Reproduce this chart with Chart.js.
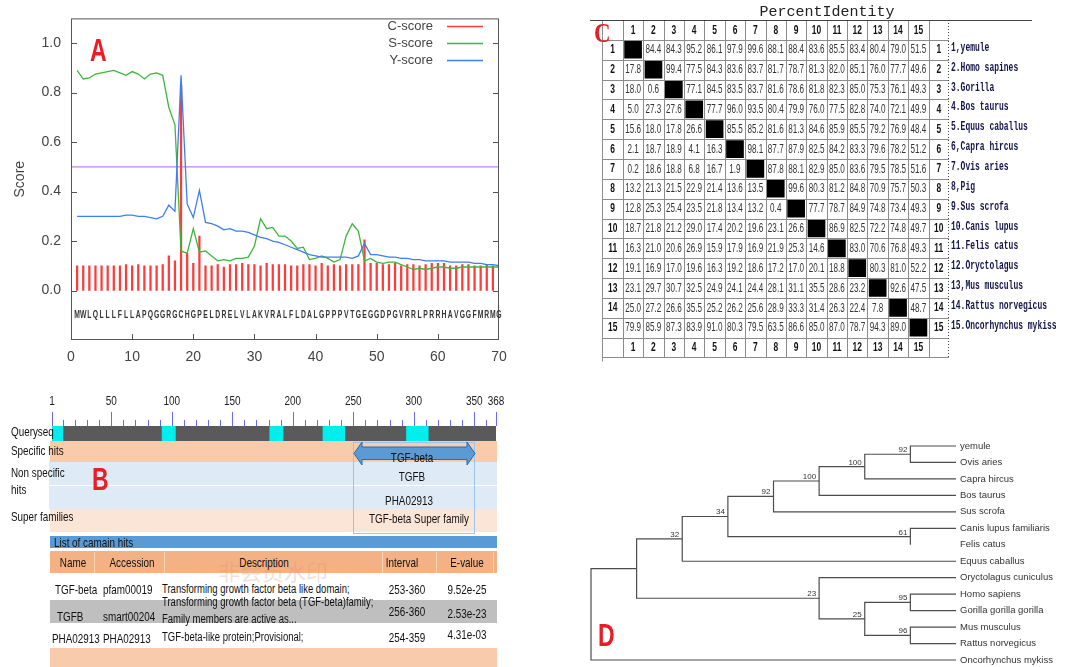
<!DOCTYPE html>
<html>
<head>
<meta charset="utf-8">
<title>TGF-beta signal peptide, domains, identity and tree</title>
<script src="https://cdn.jsdelivr.net/npm/chart.js@4.4.1/dist/chart.umd.min.js"></script>
<style>
  body { margin: 0; background: #fff; }
  #page { position: relative; width: 1073px; height: 667px; overflow: hidden;
          font-family: 'Liberation Sans', sans-serif; color: #111; }
  #page canvas, #page .box, #page .t { position: absolute; }
  #page .t { white-space: nowrap; line-height: 1; }
  .panel { position: absolute; font: bold 32px 'Liberation Sans', sans-serif; color: #ec1c24; line-height: 1;
           z-index: 5; transform: scaleX(0.72); transform-origin: left center; }
</style>
</head>
<body>
<div id="page">
  <canvas id="chartA" width="580" height="370" style="left:0;top:0"></canvas>
  <canvas id="chartC" width="483" height="370" style="left:590px;top:0"></canvas>
  <canvas id="chartD" width="493" height="287" style="left:580px;top:380px"></canvas>
  <div class="panel" style="left:90px;top:34px">A</div>
  <div class="panel" style="left:92px;top:463px">B</div>
  <div class="panel" style="left:598px;top:619px">D</div>
</div>
<script>
// =====================
// PANEL A - C/S/Y SCORES
// =====================
const aXTicks = [0, 10, 20, 30, 40, 50, 60, 70];
const aYTicks = [0, 0.2, 0.4, 0.6, 0.8, 1.0];
const cScore = [
  0.10, 0.10, 0.10, 0.10, 0.10, 0.10, 0.10, 0.10, 0.105, 0.10,
  0.105, 0.10, 0.10, 0.10, 0.105, 0.14, 0.12, 0.83, 0.15, 0.11,
  0.22, 0.10, 0.10, 0.105, 0.095, 0.105, 0.105, 0.11, 0.105, 0.105,
  0.10, 0.11, 0.105, 0.105, 0.105, 0.10, 0.10, 0.105, 0.105, 0.10,
  0.11, 0.10, 0.105, 0.10, 0.105, 0.105, 0.105, 0.205, 0.11, 0.11,
  0.105, 0.105, 0.11, 0.10, 0.105, 0.105, 0.10, 0.105, 0.11, 0.11,
  0.11, 0.10, 0.10, 0.105, 0.105, 0.10, 0.10, 0.105, 0.10
];
const sScore = [
  0.89, 0.855, 0.86, 0.875, 0.88, 0.885, 0.89, 0.88, 0.87, 0.885,
  0.875, 0.855, 0.875, 0.88, 0.87, 0.74, 0.67, 0.16, 0.15, 0.25,
  0.155, 0.16, 0.14, 0.12, 0.125, 0.12, 0.13, 0.13, 0.135, 0.18,
  0.29, 0.25, 0.255, 0.22, 0.22, 0.20, 0.17, 0.175, 0.125, 0.13,
  0.14, 0.13, 0.115, 0.125, 0.22, 0.27, 0.24, 0.12, 0.13, 0.115,
  0.11, 0.115, 0.115, 0.105, 0.095, 0.085, 0.09, 0.085, 0.09, 0.095,
  0.095, 0.09, 0.09, 0.095, 0.095, 0.095, 0.095, 0.095, 0.095, 0.095
];
const yScore = [
  0.30, 0.30, 0.30, 0.30, 0.30, 0.30, 0.30, 0.30, 0.305, 0.305,
  0.30, 0.30, 0.295, 0.29, 0.30, 0.345, 0.32, 0.87, 0.35, 0.295,
  0.405, 0.275, 0.27, 0.26, 0.245, 0.25, 0.24, 0.24, 0.235, 0.225,
  0.215, 0.21, 0.20, 0.195, 0.185, 0.175, 0.165, 0.155, 0.145, 0.14,
  0.135, 0.135, 0.135, 0.135, 0.135, 0.13, 0.14, 0.19, 0.145, 0.145,
  0.14, 0.135, 0.135, 0.13, 0.13, 0.125, 0.125, 0.12, 0.12, 0.12,
  0.12, 0.115, 0.115, 0.115, 0.115, 0.11, 0.11, 0.105, 0.105, 0.10
];
const dCutoff = 0.5;
const seqLetters = 'MWLQLLLFLLAPQGGRGCHGPELDRELVLAKVRALFLDALGPPPVTGEGGDPGVRRLPRRHAVGGFMRMG';
const seqRow = -0.1;
const aLegend = ['C-score', 'S-score', 'Y-score'];

const toPts = arr => arr.map((v, i) => ({ x: i + 1, y: v }));

// canvas text squeezed horizontally (no narrow font is installed)
function sText(ctx, s, x, y, sx) {
  ctx.save(); ctx.translate(x, y); ctx.scale(sx, 1); ctx.fillText(s, 0, 0); ctx.restore();
}

const signalPlugin = {
  id: 'signalFrame',
  afterDatasetsDraw(chart) {
    const { ctx, chartArea: a, scales: { x, y } } = chart;
    ctx.save();
    ctx.strokeStyle = '#555';
    ctx.lineWidth = 1;
    ctx.strokeRect(a.left + 0.5, a.top + 0.5, a.right - a.left - 1, a.bottom - a.top - 1);
    ctx.beginPath();
    aYTicks.forEach(v => {
      const py = Math.round(y.getPixelForValue(v)) + 0.5;
      ctx.moveTo(a.left, py); ctx.lineTo(a.left + 6, py);
      ctx.moveTo(a.right, py); ctx.lineTo(a.right - 6, py);
    });
    aXTicks.slice(1, -1).forEach(v => {
      const px = Math.round(x.getPixelForValue(v)) + 0.5;
      ctx.moveTo(px, a.bottom); ctx.lineTo(px, a.bottom - 6);
    });
    ctx.stroke();

    // residues under the axis
    ctx.fillStyle = '#333';
    ctx.font = "bold 10px 'Liberation Sans', sans-serif";
    ctx.textAlign = 'center';
    ctx.textBaseline = 'middle';
    const sy = y.getPixelForValue(seqRow);
    seqLetters.split('').forEach((ch, i) => sText(ctx, ch, x.getPixelForValue(i + 1), sy, 0.68));

    // legend, top right inside the frame
    ctx.font = "13px 'Liberation Sans', sans-serif";
    ctx.textAlign = 'right';
    aLegend.forEach((name, i) => {
      const ds = chart.data.datasets.find(d => d.label === name);
      const ly = 26 + i * 17;
      ctx.fillStyle = '#444';
      ctx.fillText(name, 433, ly);
      ctx.strokeStyle = ds.type === 'bar' ? ds.backgroundColor : ds.borderColor;
      ctx.lineWidth = 1.5;
      ctx.beginPath(); ctx.moveTo(447, ly + 0.5); ctx.lineTo(483, ly + 0.5); ctx.stroke();
    });
    ctx.restore();
  }
};

new Chart(document.getElementById('chartA'), {
  type: 'bar',
  data: {
    datasets: [
      { type: 'line', label: 'Y-score', data: toPts(yScore), borderColor: '#3b7ff2', borderWidth: 1.3,
        pointRadius: 0, tension: 0, order: 1 },
      { type: 'line', label: 'S-score', data: toPts(sScore), borderColor: '#3db63d', borderWidth: 1.3,
        pointRadius: 0, tension: 0, order: 2 },
      { type: 'bar', label: 'C-score', data: toPts(cScore), backgroundColor: '#ff3b3b', barThickness: 1.6,
        borderWidth: 0, order: 3 },
      { type: 'line', label: 'cutoff', data: [{ x: aXTicks[0], y: dCutoff }, { x: aXTicks[aXTicks.length - 1], y: dCutoff }],
        borderColor: '#c77dff', borderWidth: 1.3, pointRadius: 0, order: 4 }
    ]
  },
  options: {
    responsive: false,
    animation: false,
    devicePixelRatio: 1,
    events: [],
    layout: { padding: { top: 15, right: 81, left: 0, bottom: 0 } },
    plugins: { legend: { display: false }, tooltip: { enabled: false } },
    scales: {
      x: {
        type: 'linear', min: 0, max: 70, offset: false,
        afterBuildTicks: s => { s.ticks = aXTicks.map(v => ({ value: v })); },
        afterFit: s => { s.height = 30; },
        grid: { display: false, drawTicks: false }, border: { display: false },
        ticks: { padding: 9, color: '#444', font: { size: 14, family: 'Liberation Sans' } }
      },
      y: {
        type: 'linear', min: -0.2, max: 1.1,
        afterBuildTicks: s => { s.ticks = aYTicks.map(v => ({ value: v })); },
        afterFit: s => { s.width = 71; },
        grid: { display: false, drawTicks: false }, border: { display: false },
        ticks: { padding: 10, color: '#444', font: { size: 14, family: 'Liberation Sans' },
                 callback: v => v.toFixed(1) },
        title: { display: true, text: 'Score', color: '#444', padding: { top: 12, bottom: 0 },
                 font: { size: 14, family: 'Liberation Sans' } }
      }
    }
  },
  plugins: [signalPlugin]
});

// =====================
// PANEL C - PERCENT IDENTITY
// =====================
const pidTicks = ['1', '2', '3', '4', '5', '6', '7', '8', '9', '10', '11', '12', '13', '14', '15'];
const pidNames = ['1,yemule', '2.Homo sapines', '3.Gorilla', '4.Bos taurus', '5.Equus caballus',
  '6,Capra hircus', '7.Ovis aries', '8,Pig', '9.Sus scrofa', '10.Canis lupus', '11.Felis catus',
  '12.Oryctolagus', '13,Mus musculus', '14.Rattus norvegicus', '15.Oncorhynchus mykiss'];
const pidMatrix = [
  [null, 84.4, 84.3, 95.2, 86.1, 97.9, 99.6, 88.1, 88.4, 83.6, 85.5, 83.4, 80.4, 79.0, 51.5],
  [17.8, null, 99.4, 77.5, 84.3, 83.6, 83.7, 81.7, 78.7, 81.3, 82.0, 85.1, 76.0, 77.7, 49.6],
  [18.0, 0.6, null, 77.1, 84.5, 83.5, 83.7, 81.6, 78.6, 81.8, 82.3, 85.0, 75.3, 76.1, 49.3],
  [5.0, 27.3, 27.6, null, 77.7, 96.0, 93.5, 80.4, 79.9, 76.0, 77.5, 82.8, 74.0, 72.1, 49.9],
  [15.6, 18.0, 17.8, 26.6, null, 85.5, 85.2, 81.6, 81.3, 84.6, 85.9, 85.5, 79.2, 76.9, 48.4],
  [2.1, 18.7, 18.9, 4.1, 16.3, null, 98.1, 87.7, 87.9, 82.5, 84.2, 83.3, 79.6, 78.2, 51.2],
  [0.2, 18.6, 18.8, 6.8, 16.7, 1.9, null, 87.8, 88.1, 82.9, 85.0, 83.6, 79.5, 78.5, 51.6],
  [13.2, 21.3, 21.5, 22.9, 21.4, 13.6, 13.5, null, 99.6, 80.3, 81.2, 84.8, 70.9, 75.7, 50.3],
  [12.8, 25.3, 25.4, 23.5, 21.8, 13.4, 13.2, 0.4, null, 77.7, 78.7, 84.9, 74.8, 73.4, 49.3],
  [18.7, 21.8, 21.2, 29.0, 17.4, 20.2, 19.6, 23.1, 26.6, null, 86.9, 82.5, 72.2, 74.8, 49.7],
  [16.3, 21.0, 20.6, 26.9, 15.9, 17.9, 16.9, 21.9, 25.3, 14.6, null, 83.0, 70.6, 76.8, 49.3],
  [19.1, 16.9, 17.0, 19.6, 16.3, 19.2, 18.6, 17.2, 17.0, 20.1, 18.8, null, 80.3, 81.0, 52.2],
  [23.1, 29.7, 30.7, 32.5, 24.9, 24.1, 24.4, 28.1, 31.1, 35.5, 28.6, 23.2, null, 92.6, 47.5],
  [25.0, 27.2, 26.6, 35.5, 25.2, 26.2, 25.6, 28.9, 33.3, 31.4, 26.3, 22.4, 7.8, null, 48.7],
  [79.9, 85.9, 87.3, 83.9, 91.0, 80.3, 79.5, 63.5, 86.6, 85.0, 87.0, 78.7, 94.3, 89.0, null]
];
const pidCols = ['rowL', ...pidTicks, 'rowR'];
const pidRows = ['head', ...pidTicks, 'foot'];

const pidPlugin = {
  id: 'pidTable',
  afterDatasetsDraw(chart) {
    const { ctx, chartArea: a, scales: { x, y } } = chart;
    const cw = x.getPixelForValue(1) - x.getPixelForValue(0);
    const ch = y.getPixelForValue(1) - y.getPixelForValue(0);
    const last = pidCols.length - 1;
    ctx.save();
    // cell borders
    ctx.strokeStyle = '#8c8c8c';
    ctx.lineWidth = 1;
    ctx.beginPath();
    for (let k = 0; k <= last; k++) {
      const px = Math.round(x.getPixelForValue(k) - cw / 2) + 0.5;
      ctx.moveTo(px, a.top); ctx.lineTo(px, a.bottom + (k === 0 ? 4 : 0));
    }
    for (let k = 1; k <= pidRows.length; k++) {
      const py = Math.round(y.getPixelForValue(k) - ch / 2) + 0.5;
      ctx.moveTo(a.left, py); ctx.lineTo(a.right, py);
    }
    ctx.stroke();
    ctx.strokeStyle = '#444';
    ctx.beginPath(); ctx.moveTo(0, a.top + 0.5); ctx.lineTo(442, a.top + 0.5); ctx.stroke();
    ctx.setLineDash([1, 2]);
    ctx.beginPath(); ctx.moveTo(a.right - 0.5, a.top); ctx.lineTo(a.right - 0.5, a.bottom); ctx.stroke();
    ctx.setLineDash([]);

    ctx.textAlign = 'center';
    ctx.textBaseline = 'middle';
    // header / footer / side numbers
    ctx.fillStyle = '#111';
    ctx.font = "bold 13px 'Liberation Sans', sans-serif";
    pidTicks.forEach((t, i) => {
      sText(ctx, t, x.getPixelForValue(i + 1), y.getPixelForValue(0), 0.65);
      sText(ctx, t, x.getPixelForValue(i + 1), y.getPixelForValue(last), 0.65);
      sText(ctx, t, x.getPixelForValue(0), y.getPixelForValue(i + 1), 0.65);
      sText(ctx, t, x.getPixelForValue(last), y.getPixelForValue(i + 1), 0.65);
    });
    // values
    ctx.fillStyle = '#333';
    ctx.font = "13.5px 'Liberation Sans', sans-serif";
    pidMatrix.forEach((row, r) => row.forEach((v, c) => {
      if (v === null) return;
      sText(ctx, v.toFixed(1), x.getPixelForValue(c + 1), y.getPixelForValue(r + 1), 0.6);
    }));
    // species names
    ctx.textAlign = 'left';
    ctx.fillStyle = '#14144a';
    ctx.font = "bold 12.5px 'Liberation Mono', 'DejaVu Sans Mono', monospace";
    pidNames.forEach((n, r) => sText(ctx, n, a.right + 2, y.getPixelForValue(r + 1) - 2, 0.64));
    // title and panel letter
    ctx.textAlign = 'center';
    ctx.fillStyle = '#222';
    ctx.font = "15px 'Liberation Mono', 'DejaVu Sans Mono', monospace";
    ctx.fillText('PercentIdentity', 237, 12);
    ctx.textAlign = 'left';
    ctx.textBaseline = 'alphabetic';
    ctx.fillStyle = '#ec1c24';
    ctx.font = "bold 28px 'Liberation Serif', serif";
    sText(ctx, 'C', 4, 42, 0.82);
    ctx.restore();
  }
};

new Chart(document.getElementById('chartC'), {
  type: 'scatter',
  data: {
    datasets: [{
      data: pidTicks.map(t => ({ x: t, y: t })),
      pointStyle: 'rect', pointRadius: 12.5, backgroundColor: '#000', borderWidth: 0
    }]
  },
  options: {
    responsive: false,
    animation: false,
    devicePixelRatio: 1,
    events: [],
    layout: { padding: { top: 20, right: 124, left: 1, bottom: 10 } },
    plugins: { legend: { display: false }, tooltip: { enabled: false } },
    scales: {
      x: { type: 'category', labels: pidCols, offset: true, display: false },
      y: { type: 'category', labels: pidRows, offset: true, display: false }
    }
  },
  plugins: [pidPlugin]
});

// =====================
// PANEL B - CONSERVED DOMAINS
// =====================
const rulerLabels = [1, 50, 100, 150, 200, 250, 300, 350, 368];
const querySpan = [1, 368];
const queryHits = [[1, 10], [92, 103], [181, 192], [225, 243], [294, 312]];
const hitNames = ['TGF-beta', 'TGFB', 'PHA02913'];
const hitAccessions = ['pfam00019', 'smart00204', 'PHA02913'];
const hitDescriptions = [
  ['Transforming growth factor beta like domain;'],
  ['Transforming growth factor beta (TGF-beta)family;', 'Family members are active as...'],
  ['TGF-beta-like protein;Provisional;']
];
const hitIntervals = ['253-360', '256-360', '254-359'];
const hitEvalues = ['9.52e-25', '2.53e-23', '4.31e-03'];
const tableHeaders = ['Name', 'Accession', 'Description', 'Interval', 'E-value'];

const page = document.getElementById('page');
function box(x, y, w, h, css) {
  const d = document.createElement('div');
  d.className = 'box';
  d.style.cssText = `left:${x}px;top:${y}px;width:${w}px;height:${h}px;${css || ''}`;
  page.appendChild(d);
  return d;
}
function put(text, x, y, align, size, css, sx) {
  const d = document.createElement('div');
  d.className = 't';
  d.textContent = text;
  const tx = align === 'center' ? '-50%' : align === 'right' ? '-100%' : '0';
  const org = align === 'center' ? 'center' : align === 'right' ? 'right' : 'left';
  d.style.cssText = `left:${x}px;top:${y}px;font-size:${size || 12.5}px;` +
    `transform:translate(${tx},-50%) scaleX(${sx || 0.76});transform-origin:${org} center;${css || ''}`;
  page.appendChild(d);
  return d;
}

// bands behind the domain graphic
box(50, 441, 447, 21, 'background:#f8cbad');
box(49, 462, 448, 23, 'background:#deebf7');
box(49, 486, 448, 23, 'background:#deebf7');
box(50, 509, 447, 23, 'background:#fbe5d6');
box(50, 536, 447, 12, 'background:#5b9bd5');
box(50, 551, 447, 22, 'background:#f4b183');
box(50, 600, 447, 23, 'background:#bfbfbf');
box(50, 648, 447, 19, 'background:#f8cbad');
[94, 164, 382, 436, 493].forEach(px => box(px, 552, 1, 21, 'background:#f9d3b6'));
box(353, 442, 120, 90, 'border:1px solid #9dc3e6');
page.insertAdjacentHTML('beforeend',
  '<svg style="position:absolute;left:352px;top:440px" width="126" height="28">' +
  '<polygon points="2,13.5 10,2 10,7 115,7 115,2 123,13.5 115,25 115,19.5 10,19.5 10,25" ' +
  'fill="#5b9bd5" stroke="#2e6aa8" stroke-width="1"/></svg>');

const chartBCanvas = document.createElement('canvas');
chartBCanvas.width = 580; chartBCanvas.height = 70;
chartBCanvas.style.cssText = 'left:0;top:380px';
page.appendChild(chartBCanvas);

const rulerPlugin = {
  id: 'ruler',
  afterDatasetsDraw(chart) {
    const { ctx, chartArea: a, scales: { x } } = chart;
    ctx.save();
    ctx.strokeStyle = '#6a6aff';
    ctx.lineWidth = 1;
    ctx.beginPath();
    for (let v = 10; v < querySpan[1]; v += 10) {
      const px = Math.round(x.getPixelForValue(v)) + 0.5;
      ctx.moveTo(px, a.top - 6); ctx.lineTo(px, a.top);
    }
    rulerLabels.forEach(v => {
      const px = Math.round(x.getPixelForValue(v)) + 0.5;
      ctx.moveTo(px, a.top - 14); ctx.lineTo(px, a.top);
    });
    ctx.stroke();
    ctx.fillStyle = '#222';
    ctx.font = "12.5px 'Liberation Sans', sans-serif";
    ctx.textAlign = 'center';
    ctx.textBaseline = 'middle';
    rulerLabels.forEach(v => sText(ctx, String(v), x.getPixelForValue(v), 22, 0.8));
    ctx.restore();
  }
};

new Chart(chartBCanvas, {
  type: 'bar',
  data: {
    labels: ['Queryseq'],
    datasets: [
      { data: [querySpan], backgroundColor: '#5a5a5a', grouped: false, order: 2 },
      ...queryHits.map(h => ({ data: [h], backgroundColor: '#00eeee', grouped: false, order: 1 }))
    ]
  },
  options: {
    indexAxis: 'y',
    responsive: false,
    animation: false,
    devicePixelRatio: 1,
    events: [],
    barPercentage: 1,
    categoryPercentage: 1,
    layout: { padding: { top: 46, right: 84, left: 52, bottom: 9 } },
    plugins: { legend: { display: false }, tooltip: { enabled: false } },
    scales: {
      x: { type: 'linear', min: querySpan[0], max: querySpan[1], display: false },
      y: { display: false }
    }
  },
  plugins: [rulerPlugin]
});

// labels of the domain graphic
put('Queryseq', 11, 432, 'left', 13.5, '', 0.73);
put('Specific hits', 11, 451, 'left', 13.5, '', 0.73);
put('Non  specific', 11, 473, 'left', 13.5, '', 0.73);
put('hits', 11, 490, 'left', 13.5, '', 0.73);
put('Super families', 11, 517, 'left', 13.5, '', 0.73);
put(hitNames[0], 412, 457, 'center', 13);
put(hitNames[1], 412, 476, 'center', 13);
put(hitNames[2], 409, 500, 'center', 13);
put('TGF-beta Super family', 419, 518, 'center', 13);
put('非会员水印', 273, 570, 'center', 22, "font-family:'Noto Sans CJK SC',sans-serif;color:rgba(215,150,120,0.3)", 1);
put('List of camain hits', 54, 542, 'left', 13);

// hits table
const headerX = [73, 132, 264, 402, 467];
tableHeaders.forEach((h, i) => put(h, headerX[i], 562, 'center', 13));
const nameX = [55, 57, 52];
const rowY = [589, 616, 638];
const descY = [[589], [602, 619], [637]];
const intY = [589, 611, 637];
const evY = [589, 613, 634];
hitNames.forEach((n, i) => {
  put(n, nameX[i], rowY[i], 'left', 13);
  put(hitAccessions[i], 103, rowY[i], 'left', 13);
  hitDescriptions[i].forEach((d, j) => put(d, 162, descY[i][j], 'left', 12.5));
  put(hitIntervals[i], 407, intY[i], 'center', 13);
  put(hitEvalues[i], 467, evY[i], 'center', 13);
});

// =====================
// PANEL D - PHYLOGENETIC TREE
// =====================
const treeLeaves = ['yemule', 'Ovis aries', 'Capra hircus', 'Bos taurus', 'Sus scrofa',
  'Canis lupus familiaris', 'Felis catus', 'Equus caballus', 'Oryctolagus cuniculus',
  'Homo sapiens', 'Gorilla gorilla gorilla', 'Mus musculus', 'Rattus norvegicus', 'Oncorhynchus mykiss'];
const leafDepth = [8, 8, 8, 8, 8, 8, 7, 8, 8, 8, 8, 8, 8, 8];
const nodeKids = [['L0', 'L1'], ['N0', 'L2'], ['N1', 'L3'], ['N2', 'L4'], ['L5', 'L6'], ['N3', 'N4'],
  ['N5', 'L7'], ['L9', 'L10'], ['L11', 'L12'], ['N7', 'N8'], ['L8', 'N9'], ['N6', 'N10'], ['N11', 'L13']];
const nodeDepth = [7, 6, 5, 4, 7, 3, 2, 7, 7, 6, 5, 1, 0];
const nodeSupport = ['92', '100', '100', '92', '61', '34', '32', '95', '96', '25', '23', '', ''];

function treePos(id) {
  const i = +id.slice(1);
  if (id[0] === 'L') return { x: leafDepth[i], y: i };
  const a = treePos(nodeKids[i][0]);
  const b = treePos(nodeKids[i][1]);
  return { x: nodeDepth[i], y: (a.y + b.y) / 2 };
}

const treeSets = nodeKids.map((kids, i) => {
  const a = treePos(kids[0]);
  const b = treePos(kids[1]);
  const nx = nodeDepth[i];
  return {
    data: [{ x: a.x, y: a.y }, { x: nx, y: a.y }, { x: nx, y: b.y }, { x: b.x, y: b.y }],
    showLine: true, pointRadius: 0, borderColor: '#4d4d4d', borderWidth: 1.2, fill: false, clip: false
  };
});

const treePlugin = {
  id: 'treeLabels',
  afterDatasetsDraw(chart) {
    const { ctx, scales: { x, y } } = chart;
    ctx.save();
    ctx.fillStyle = '#333';
    ctx.font = "9.5px 'Liberation Sans', sans-serif";
    ctx.textAlign = 'left';
    ctx.textBaseline = 'middle';
    treeLeaves.forEach((n, i) => ctx.fillText(n, x.getPixelForValue(8) + 4, y.getPixelForValue(i)));
    ctx.font = "8px 'Liberation Sans', sans-serif";
    ctx.textAlign = 'right';
    ctx.textBaseline = 'alphabetic';
    nodeSupport.forEach((s, i) => {
      if (!s) return;
      const p = treePos('N' + i);
      ctx.fillText(s, x.getPixelForValue(p.x) - 3, y.getPixelForValue(p.y) - 2);
    });
    ctx.restore();
  }
};

new Chart(document.getElementById('chartD'), {
  type: 'scatter',
  data: { datasets: treeSets },
  options: {
    responsive: false,
    animation: false,
    devicePixelRatio: 1,
    events: [],
    layout: { padding: { top: 66, right: 117, left: 11, bottom: 7 } },
    plugins: { legend: { display: false }, tooltip: { enabled: false } },
    scales: {
      x: { type: 'linear', min: 0, max: 8, display: false },
      y: { type: 'linear', min: 0, max: treeLeaves.length - 1, reverse: true, display: false }
    }
  },
  plugins: [treePlugin]
});
</script>
</body>
</html>
